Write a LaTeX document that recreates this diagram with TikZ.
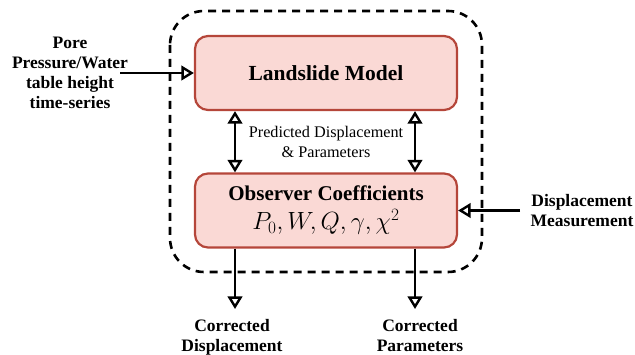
\documentclass[tikz,border=0pt]{standalone}
\usepackage{fontspec}
\setmainfont{Liberation Serif}
\usetikzlibrary{arrows.meta}
\definecolor{boxfill}{HTML}{FAD9D5}
\definecolor{boxdraw}{HTML}{B5463A}
\tikzset{
  tipo/.tip={Triangle[open, length=12.5pt, width=14.5pt, line width=2.4pt]},
  modelbox/.style={draw=boxdraw, fill=boxfill, line width=2.2pt, rounded corners=13pt, minimum width=262pt, minimum height=74pt, align=center},
  conn/.style={line width=2.6pt, -tipo},
  dconn/.style={line width=2.6pt, tipo-tipo},
  lbl/.style={font=\fontsize{17.5}{20}\selectfont\bfseries, align=center},
}
\begin{document}
\begin{tikzpicture}[x=1pt,y=-1pt]
\useasboundingbox (0,0) rectangle (635,355);
\draw[line width=2.6pt, dash pattern=on 8pt off 6pt, rounded corners=34pt] (170,11) rectangle (482,272);
\node[modelbox, font=\fontsize{21.5}{25}\selectfont\bfseries] (lm) at (326,73) {Landslide Model};
\node[modelbox, font=\fontsize{21}{25}\selectfont\bfseries] (oc) at (326,210.5) {Observer Coefficients\\[4pt] \fontsize{23.5}{26}\selectfont$P_0, W, Q, \gamma, \chi^2$};
\draw[dconn] (lm.south -| 235,0) -- (oc.north -| 235,0);
\draw[dconn] (lm.south -| 415,0) -- (oc.north -| 415,0);
\node[font=\fontsize{16.2}{19.5}\selectfont, align=center] (pd) at (326,142) {Predicted Displacement\\ \& Parameters};
\node[lbl] (pore) at (70,73) {Pore\\Pressure/Water\\table height\\time-series};
\coordinate (pin) at (120,73);
\draw[conn] (pin) -- (lm.west);
\node[lbl] (dm) at (582,211) {Displacement\\Measurement};
\coordinate (din) at (520,210.5);
\draw[conn] (din) -- (oc.east);
\coordinate (c1) at (235,309);
\coordinate (c2) at (415,309);
\draw[conn] (oc.south -| c1) -- (c1);
\draw[conn] (oc.south -| c2) -- (c2);
\node[lbl, anchor=north] (cd) at (232,316) {Corrected\\Displacement};
\node[lbl, anchor=north] (cp) at (420,316) {Corrected\\Parameters};
\end{tikzpicture}
\end{document}
